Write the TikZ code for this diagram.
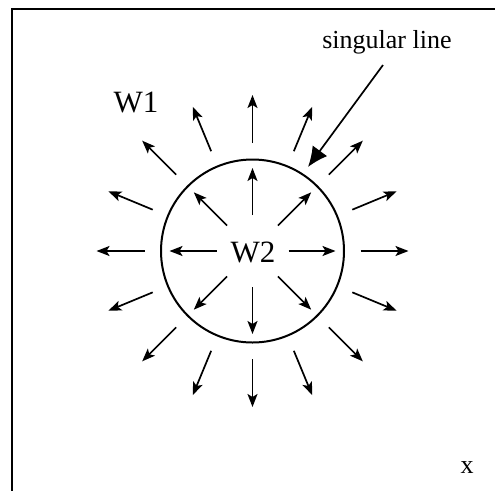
\documentclass[tikz,border=0pt]{standalone}
\usepackage{fontspec}
\setmainfont{Liberation Serif}
\usetikzlibrary{arrows.meta,calc}
\begin{document}
\begin{tikzpicture}[x=1pt,y=-1pt,
  ray/.style={line width=1.7pt,-{Stealth[length=13pt,width=10pt,inset=3pt]}},
  bigarrow/.style={line width=1.7pt,-{Latex[length=20pt,width=18pt]}},
  lbl/.style={inner sep=0pt,anchor=base,font=\fontsize{31}{31}\selectfont},
  small/.style={inner sep=0pt,anchor=base,font=\fontsize{26}{26}\selectfont}]
\useasboundingbox (0,0) rectangle (495,491);
\draw[line width=2pt] (495,9) -- (12,9) -- (12,491);
\coordinate (c) at (252.5,251);
\node[draw,circle,line width=2pt,minimum size=183pt,inner sep=0pt] (disk) at (c) {};
\foreach \a in {0,45,...,315}
  \draw[ray] ($(c)+(\a:36)$) -- ($(c)+(\a:83)$);
\foreach \a in {0,22.5,...,337.5}
  \draw[ray] ($(c)+(\a:108)$) -- ($(c)+(\a:156)$);
\node[lbl,fill=white,inner xsep=4pt] (w2) at (253,262) {W2};
\node[lbl] (w1) at (136,112) {W1};
\node[small] (xl) at (467,473) {x};
\node[small] (sl) at (387,48) {singular line};
\coordinate (st) at (383,65);
\coordinate (sh) at (308,167);
\draw[bigarrow] (st) -- (sh);
\end{tikzpicture}
\end{document}
